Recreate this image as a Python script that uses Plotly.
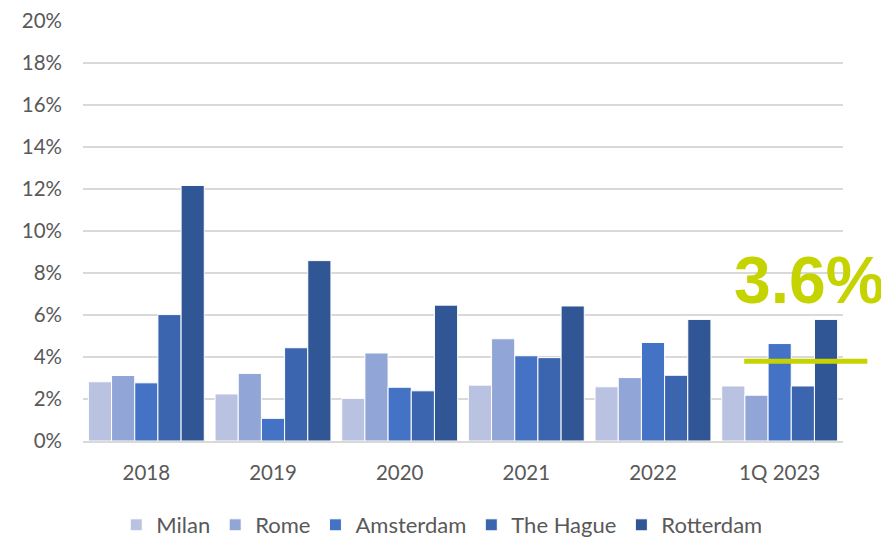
import plotly.graph_objects as go

categories = ["2018", "2019", "2020", "2021", "2022", "1Q 2023"]
milan = [2.82, 2.24, 2.03, 2.66, 2.58, 2.62]
rome = [3.12, 3.22, 4.19, 4.87, 3.02, 2.18]
amsterdam = [2.77, 1.08, 2.56, 4.06, 4.69, 4.64]
the_hague = [6.02, 4.44, 2.39, 3.97, 3.13, 2.62]
rotterdam = [12.17, 8.59, 6.47, 6.43, 5.79, 5.79]

series_names = ["Milan", "Rome", "Amsterdam", "The Hague", "Rotterdam"]
series_values = [milan, rome, amsterdam, the_hague, rotterdam]
series_colors = ["#b9c3e1", "#91a6d6", "#4472c4", "#3c65af", "#305696"]

highlight_label = "3.6%"
highlight_level = 3.8
highlight_color = "#c5d400"

fig = go.Figure()
for name, vals, col in zip(series_names, series_values, series_colors):
    fig.add_trace(go.Bar(
        x=categories, y=vals, name=name,
        marker=dict(color=col, line=dict(color="white", width=1)),
    ))

fig.add_shape(type="line", xref="paper", yref="y",
              x0=0.87, x1=1.032, y0=highlight_level, y1=highlight_level,
              line=dict(color=highlight_color, width=5), layer="above")
fig.add_annotation(xref="paper", yref="paper", x=0.955, y=0.383,
                   text="<b>" + highlight_label + "</b>", showarrow=False,
                   font=dict(family="Liberation Sans, Arial", size=66, color=highlight_color),
                   xanchor="center", yanchor="middle")

fig.update_layout(
    width=881, height=529,
    margin=dict(l=75, r=46, t=13, b=96, autoexpand=False),
    plot_bgcolor="white", paper_bgcolor="white",
    barmode="group", bargap=0.085, bargroupgap=0.0,
    font=dict(family="Lato, Noto Sans, sans-serif", size=20, color="#595959"),
    showlegend=True,
    legend=dict(orientation="h", x=0.472, xanchor="center", y=-0.2, yanchor="middle",
                font=dict(size=22, color="#595959"), itemwidth=30,
                traceorder="normal"),
    xaxis=dict(showgrid=False, showline=True, linecolor="#d9d9d9", linewidth=1.5,
               ticks="", tickfont=dict(size=20.5, color="#595959"),
               ticklabelstandoff=13, automargin=False),
    yaxis=dict(range=[0, 20.001], dtick=2, ticksuffix="%", showgrid=True,
               gridcolor="#d9d9d9", gridwidth=1.5, zeroline=False, showline=False,
               tickfont=dict(size=20.5, color="#595959"), ticklabelstandoff=20,
               ticklabeloverflow="allow", automargin=False),
)

fig.write_html("out.html")
